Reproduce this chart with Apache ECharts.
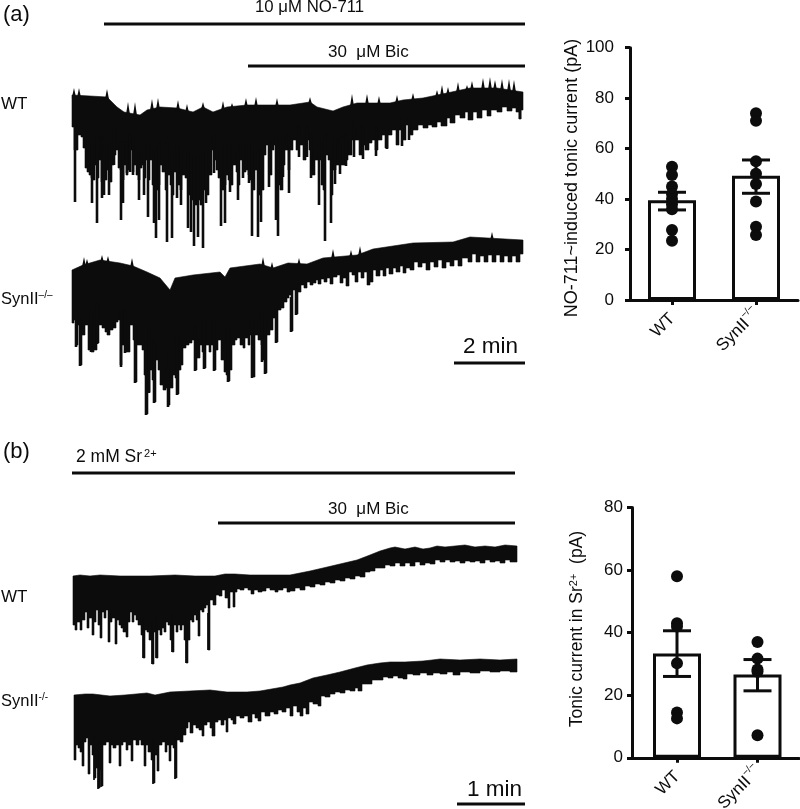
<!DOCTYPE html>
<html><head><meta charset="utf-8">
<style>html,body{margin:0;padding:0;background:#fff}#c{width:800px;height:809px}</style>
<script src="https://cdn.jsdelivr.net/npm/echarts@6/dist/echarts.min.js"></script>
</head><body><div id="c"></div>
<script>
// Membrane-current traces in sweep units
const aWtTop=[[72,95],[90,96],[107,97],[117,107],[124,112],[140,115],[147,110],[160,107],[177,108],[193,112],[203,107],[213,112],[227,107],[247,105],[267,105],[290,105],[310,102],[317,107],[333,111],[343,107],[357,103],[390,103],[403,100],[423,98],[447,93],[470,88],[497,88],[523,92]];
const aWtBottom=[[72,127],[74,150],[76,150],[78,135],[81,137],[83,148],[85,168],[87,172],[89,175],[91,178],[93,180],[95,165],[97,178],[99,160],[101,182],[103,172],[105,180],[107,170],[110,182],[112,165],[114,155],[116,150],[118,168],[120,170],[122,180],[124,165],[126,175],[128,170],[130,150],[132,172],[134,165],[136,175],[138,180],[140,168],[142,165],[144,178],[146,160],[148,180],[150,160],[152,185],[155,190],[158,185],[160,165],[162,172],[165,190],[167,175],[170,185],[172,195],[174,172],[177,185],[180,190],[182,175],[185,178],[188,195],[191,200],[194,205],[197,200],[200,205],[203,190],[206,195],[209,175],[212,150],[214,160],[216,170],[218,178],[221,190],[224,185],[226,175],[228,180],[230,185],[233,165],[236,172],[238,185],[240,160],[243,172],[246,170],[248,175],[250,180],[252,190],[255,170],[258,195],[261,190],[264,155],[266,145],[269,175],[272,150],[274,145],[277,185],[280,190],[283,165],[285,150],[288,170],[290,150],[293,140],[296,150],[299,145],[303,160],[306,140],[309,150],[312,175],[315,160],[318,160],[321,185],[323,190],[325,155],[328,160],[331,195],[333,170],[336,165],[339,165],[342,165],[345,160],[348,155],[352,140],[356,140],[359,155],[362,145],[365,150],[369,143],[372,140],[375,150],[378,140],[382,135],[385,148],[388,135],[392,130],[396,145],[399,130],[403,140],[406,125],[410,135],[413,130],[418,125],[423,128],[428,125],[432,127],[437,122],[441,126],[447,118],[450,123],[455,115],[460,118],[465,112],[468,120],[473,112],[477,118],[482,110],[487,116],[491,110],[497,112],[502,107],[507,111],[512,108],[516,112],[519,119],[521,110],[523,107]];
const aWtDown=[[75,202],[92,203],[97,223],[102,198],[104,195],[109,195],[114,165],[121,220],[123,203],[127,173],[130,172],[133,175],[139,200],[144,195],[148,217],[154,223],[156,238],[159,220],[167,242],[172,238],[177,198],[181,205],[188,228],[191,232],[194,246],[198,237],[203,248],[206,203],[214,173],[221,226],[225,223],[230,192],[238,200],[243,178],[249,183],[252,236],[258,237],[261,222],[269,187],[276,220],[278,236],[283,177],[289,193],[299,157],[307,157],[311,178],[319,205],[325,241],[331,223],[335,184],[340,174],[346,166],[354,157],[363,159],[376,156],[387,149],[402,146],[409,140],[520,119]];
const aWtUp=[[74,88],[79,88],[107,89],[128,102],[135,102],[152,99],[158,98],[178,100],[187,104],[203,102],[223,101],[232,103],[246,98],[256,97],[277,98],[310,97],[352,94],[367,94],[379,96],[397,95],[413,93],[437,90],[442,85],[448,87],[458,82],[467,85],[472,81],[483,78],[490,77],[495,80],[502,79],[509,79],[514,80]];

const aKoTop=[[72,270],[83,265],[100,260],[120,263],[133,266],[147,272],[160,278],[170,290],[175,278],[193,275],[220,272],[225,277],[230,268],[260,264],[273,268],[288,263],[307,264],[323,258],[357,255],[373,249],[413,243],[453,242],[470,237],[523,240]];
const aKoBottom=[[72,323],[74,320],[76,345],[78,325],[80,365],[82,335],[85,325],[88,350],[91,352],[94,350],[97,343],[99,325],[102,328],[105,332],[107,335],[110,330],[113,328],[116,322],[118,320],[120,365],[122,345],[125,352],[127,352],[130,325],[133,340],[135,382],[137,345],[140,345],[142,350],[144,375],[146,414],[148,392],[150,370],[152,380],[154,402],[156,360],[158,370],[160,385],[163,390],[166,388],[168,405],[170,388],[173,375],[175,378],[177,394],[179,370],[181,365],[183,348],[186,345],[189,343],[192,340],[195,370],[197,358],[200,345],[202,352],[204,368],[206,345],[209,352],[211,345],[214,370],[216,350],[218,340],[221,360],[224,372],[226,375],[228,381],[230,370],[232,345],[235,340],[237,338],[240,345],[243,348],[245,338],[248,345],[250,335],[252,377],[255,335],[258,340],[261,345],[262,360],[264,345],[265,373],[267,335],[270,330],[273,318],[276,342],[278,310],[281,308],[284,302],[287,298],[289,295],[291,331],[293,290],[296,314],[298,292],[301,285],[304,288],[307,282],[310,285],[313,283],[316,280],[318,284],[321,279],[324,282],[327,278],[330,284],[333,277],[337,275],[340,283],[343,278],[346,286],[349,272],[352,275],[355,282],[358,272],[361,278],[364,272],[367,285],[370,282],[373,270],[376,276],[380,270],[383,276],[386,268],[389,274],[393,268],[396,272],[400,266],[403,273],[406,268],[410,270],[414,262],[418,267],[422,263],[426,270],[430,262],[434,267],[438,260],[442,268],[446,262],[450,266],[454,260],[458,266],[462,258],[466,258],[468,262],[472,254],[476,262],[480,256],[484,262],[488,255],[492,262],[496,255],[500,262],[504,256],[508,262],[512,256],[516,262],[520,254],[523,250]];
const aKoDown=[[76,347],[80,366],[91,352],[97,344],[121,367],[125,353],[135,383],[146,415],[149,393],[154,403],[168,407],[177,395],[195,371],[204,369],[214,371],[228,382],[252,378],[262,362],[265,374],[276,343],[291,332],[296,315]];
const aKoUp=[[84,257],[87,259],[102,255],[108,256],[132,258],[263,257],[272,262],[299,258],[333,249],[351,250],[360,246],[492,232]];

const bWtTop=[[73,576],[80,575],[90,576],[100,575],[120,576],[150,576],[175,575],[195,576],[215,576],[225,574],[235,574],[250,575],[270,575],[290,575],[300,573],[310,571],[323,568],[340,564],[357,560],[370,555],[380,551],[390,548],[395,547],[405,549],[415,547],[423,549],[430,548],[437,546],[445,547],[455,546],[465,545],[475,547],[485,546],[495,547],[505,545],[517,546]];
const bWtBottom=[[73,625],[75,630],[77,622],[80,630],[82,620],[85,612],[87,628],[89,618],[92,635],[94,622],[96,610],[98,625],[100,638],[102,612],[104,618],[106,610],[108,642],[110,622],[112,618],[115,644],[117,620],[119,625],[121,628],[123,632],[126,637],[128,622],[130,612],[132,622],[134,615],[136,620],[138,625],[141,635],[143,658],[145,630],[147,632],[149,640],[152,664],[154,632],[156,658],[158,630],[160,635],[162,628],[164,632],[166,622],[168,625],[170,640],[172,652],[174,625],[176,632],[178,625],[180,630],[182,625],[184,640],[186,663],[188,640],[190,620],[192,622],[194,615],[196,620],[198,636],[200,610],[202,612],[204,608],[206,605],[208,650],[210,600],[213,605],[216,595],[219,596],[222,590],[225,598],[228,608],[230,592],[233,607],[235,592],[237,589],[240,590],[244,588],[248,590],[251,594],[254,590],[258,592],[262,591],[266,588],[270,590],[275,592],[278,590],[283,588],[287,592],[290,591],[295,588],[300,590],[305,586],[310,587],[315,584],[320,585],[325,582],[330,583],[335,580],[340,581],[345,578],[350,579],[355,576],[360,577],[365,572],[370,571],[375,568],[380,568],[385,565],[390,566],[395,563],[400,566],[405,563],[410,566],[415,562],[420,565],[425,563],[430,564],[435,560],[440,562],[445,560],[450,562],[455,561],[460,563],[465,561],[470,562],[475,561],[480,563],[485,560],[490,562],[495,561],[500,563],[505,560],[510,562],[517,560]];
const bWtDown=[[143,658],[152,664],[156,658],[172,652],[186,663],[208,650]];
const bWtUp=[];

const bKoTop=[[74,695],[85,694],[93,694],[110,696],[125,695],[147,693],[155,695],[170,692],[190,691],[210,690],[227,692],[247,692],[260,691],[283,687],[290,685],[300,683],[313,678],[327,675],[340,672],[355,668],[367,665],[380,663],[390,662],[405,662],[423,661],[432,660],[440,659],[460,660],[480,659],[500,660],[517,659]];
const bKoBottom=[[74,760],[76,745],[78,748],[80,752],[82,766],[84,742],[86,738],[88,774],[90,745],[92,755],[94,778],[96,768],[98,788],[100,770],[101,786],[103,745],[106,742],[109,763],[111,745],[113,748],[116,745],[119,766],[121,745],[123,742],[126,750],[128,745],[131,761],[133,740],[136,745],[139,740],[141,745],[144,766],[146,745],[148,752],[151,760],[153,783],[155,755],[157,771],[159,745],[162,742],[165,752],[167,745],[169,761],[171,745],[173,748],[175,778],[177,740],[180,742],[183,735],[186,728],[188,722],[190,733],[193,725],[196,728],[199,730],[202,736],[204,725],[207,722],[210,728],[212,736],[215,722],[218,720],[221,725],[224,720],[226,732],[228,718],[231,720],[233,724],[236,716],[240,718],[244,716],[248,722],[252,714],[255,718],[258,721],[261,712],[265,716],[270,712],[274,714],[278,710],[282,712],[286,708],[290,716],[293,706],[297,712],[300,716],[303,708],[306,714],[309,702],[313,704],[318,706],[321,696],[325,697],[330,694],[335,692],[340,693],[345,690],[350,691],[355,688],[358,691],[362,684],[367,684],[372,680],[377,680],[383,677],[388,678],[393,676],[398,678],[403,679],[407,674],[413,675],[420,673],[427,675],[433,673],[440,674],[447,672],[453,675],[460,672],[470,673],[480,671],[490,672],[500,671],[510,672],[517,670]];
const bKoDown=[[98,789],[101,787],[153,784],[175,779],[94,780]];
const bKoUp=[];

// Drug applications and scale bars, same sweep units
const noBar=[[104,24],[525,24]];
const aBicBar=[[248,66],[525,66]];
const aScale=[[454,363],[525,363]];
const srBar=[[72,473],[515,473]];
const bBicBar=[[218,523],[515,523]];
const bScale=[[457,804],[525,804]];

// Bar panels
const categories=['WT','SynII'];
const aMeans=[39.5,49.2];
const aLow=[35.7,42.3];
const aHigh=[42.7,55.5];
const aWtDots=[52.8,49.5,45,42,40,38,36,27.7,23.5];
const aKoDots=[74,71,55,50,46,39,29,25.8];
const aTicks={min:0,max:100,step:20};
const bMeans=[33.3,26.6];
const bLow=[26,21.4];
const bHigh=[40.6,31.4];
const bWtDots=[58,43,42,30.2,14.5,12.6];
const bKoDots=[37,31.7,28.2,27.5,7.2];
const bTicks={min:0,max:80,step:20};

const INK='#0c0c0c';
const FONT='"Liberation Sans", Arial, sans-serif';
const grids=[],xAxes=[],yAxes=[],series=[];

function traceGrid(l,t,w,h){
  const idx=grids.length;
  grids.push({left:l,top:t,width:w,height:h,outerBoundsMode:'none'});
  xAxes.push({gridIndex:idx,type:'value',min:l,max:l+w,show:false});
  yAxes.push({gridIndex:idx,type:'value',min:t,max:t+h,inverse:true,show:false});
  return idx;
}
function mid(top,bottom,x){
  const at=a=>{for(let i=1;i<a.length;i++){if(x<=a[i][0]){const f=(x-a[i-1][0])/(a[i][0]-a[i-1][0]);return a[i-1][1]+f*(a[i][1]-a[i-1][1]);}}return a[a.length-1][1];};
  return [at(top),at(bottom)];
}
function addTrace(idx,top,bottom,down,up,w){
  // the lower edge holds each reading up to the next one, so events read as square teeth
  const stepped=[];
  bottom.forEach((q,i)=>{stepped.push(q);if(i<bottom.length-1)stepped.push([bottom[i+1][0],q[1]]);});
  const pts=top.concat(stepped.reverse());
  series.push({type:'custom',xAxisIndex:idx,yAxisIndex:idx,silent:true,clip:false,data:pts,encode:{x:0,y:1},z:2,
    renderItem(p,api){ if(p.dataIndex!==0) return null;
      return {type:'polygon',shape:{points:pts.map(q=>api.coord(q))},style:{fill:INK,stroke:INK,lineWidth:0.6,lineJoin:'miter'}};}});
  series.push({type:'custom',xAxisIndex:idx,yAxisIndex:idx,silent:true,clip:false,data:down,encode:{x:0,y:1},z:2,
    renderItem(p,api){const x=api.value(0),y=api.value(1),m=mid(top,bottom,x);
      const a=api.coord([x,(m[0]+m[1])/2]),b=api.coord([x,y]);
      return {type:'line',shape:{x1:a[0],y1:a[1],x2:b[0],y2:b[1]},style:{stroke:INK,lineWidth:w}};}});
  if(up.length) series.push({type:'custom',xAxisIndex:idx,yAxisIndex:idx,silent:true,clip:false,data:up,encode:{x:0,y:1},z:2,
    renderItem(p,api){const x=api.value(0),y=api.value(1),m=mid(top,bottom,x);
      const b=api.coord([x,y]),a=api.coord([x,m[0]+3]);
      return {type:'polygon',shape:{points:[[a[0]-2.2,a[1]],b,[a[0]+2.2,a[1]]]},style:{fill:INK}};}});
}
function addRule(idx,pts,w){
  series.push({type:'line',xAxisIndex:idx,yAxisIndex:idx,data:pts,symbol:'none',silent:true,clip:false,
    lineStyle:{color:INK,width:w,cap:'butt'},z:3,animation:false});
}

const tA=traceGrid(0,0,800,405);
const tB=traceGrid(0,405,800,404);
addTrace(tA,aWtTop,aWtBottom,aWtDown,aWtUp,2.6);
addTrace(tA,aKoTop,aKoBottom,aKoDown,aKoUp,2.6);
addTrace(tB,bWtTop,bWtBottom,bWtDown,bWtUp,1.7);
addTrace(tB,bKoTop,bKoBottom,bKoDown,bKoUp,1.7);
addRule(tA,noBar,3);addRule(tA,aBicBar,3);addRule(tA,aScale,3);
addRule(tB,srBar,3);addRule(tB,bBicBar,3);addRule(tB,bScale,3);

function barPanel(l,t,w,h,unit,first,ticks,labelGap,means,low,high,wtDots,koDots){
  const idx=grids.length;
  grids.push({left:l,top:t,width:w,height:h,outerBoundsMode:'none'});
  xAxes.push({gridIndex:idx,type:'value',min:-first/unit,max:(w-first)/unit,splitLine:{show:false},
    axisLine:{show:true,onZero:false,lineStyle:{color:INK,width:3}},
    axisTick:{show:true,customValues:[0,1],length:5,lineStyle:{color:INK,width:3}},
    axisLabel:{customValues:[0,1],rotate:45,margin:10,color:INK,fontFamily:FONT,fontSize:17,
      formatter:v=>v===0?'{w|'+categories[0]+'}':'{m|'+categories[1]+'}{s|−/−}',
      rich:{w:{fontFamily:FONT,fontSize:17,color:INK,padding:[9,4,0,0]},
            m:{fontFamily:FONT,fontSize:17,color:INK,padding:[3,0,0,0]},
            s:{fontFamily:FONT,fontSize:10,color:INK,verticalAlign:'top',padding:[0,0,6,0]}}}});
  yAxes.push({gridIndex:idx,type:'value',min:ticks.min,max:ticks.max,interval:ticks.step,splitLine:{show:false},
    axisLine:{show:true,onZero:false,lineStyle:{color:INK,width:3}},
    axisTick:{show:true,length:5,lineStyle:{color:INK,width:3}},
    axisLabel:{margin:labelGap,color:INK,fontFamily:FONT,fontSize:17}});
  series.push({type:'bar',xAxisIndex:idx,yAxisIndex:idx,barWidth:48,data:means.map((m,i)=>[i,m]),
    itemStyle:{color:'#fff',borderColor:INK,borderWidth:3},silent:true,z:2,animation:false});
  series.push({type:'custom',xAxisIndex:idx,yAxisIndex:idx,silent:true,z:3,data:means.map((m,i)=>[i,low[i],high[i]]),encode:{x:0,y:[1,2]},
    renderItem(p,api){const a=api.coord([api.value(0),api.value(1)]),b=api.coord([api.value(0),api.value(2)]);
      const st={stroke:INK,lineWidth:3};
      return {type:'group',children:[
        {type:'line',shape:{x1:a[0],y1:a[1],x2:b[0],y2:b[1]},style:st},
        {type:'line',shape:{x1:a[0]-14,y1:a[1],x2:a[0]+14,y2:a[1]},style:st},
        {type:'line',shape:{x1:b[0]-14,y1:b[1],x2:b[0]+14,y2:b[1]},style:st}]};}});
  series.push({type:'scatter',xAxisIndex:idx,yAxisIndex:idx,silent:true,z:4,symbolSize:12,itemStyle:{color:INK,opacity:1},
    data:wtDots.map(v=>[0,v]).concat(koDots.map(v=>[1,v])),animation:false});
}
barPanel(630,47.7,168,252.3,84,42,aTicks,16,aMeans,aLow,aHigh,aWtDots,aKoDots);
barPanel(632,507.5,167,250.3,80.5,45,bTicks,9,bMeans,bLow,bHigh,bWtDots,bKoDots);

const T=(x,y,text,size,extra)=>({type:'text',x,y,silent:true,style:Object.assign({text,fill:INK,font:size+'px '+FONT,textVerticalAlign:'middle',textAlign:'left'},extra||{})});
const supRich={m:{fontFamily:FONT,fontSize:16.5,fill:INK},s:{fontFamily:FONT,fontSize:10,fill:INK,verticalAlign:'top',padding:[0,0,6,0]}};
const graphic=[
  T(3,15,'(a)',22), T(3,452,'(b)',22),
  T(255,7,'10 μM NO-711',16.8), T(328,52,'30  μM Bic',17),
  T(328,509,'30  μM Bic',17),
  T(76,457,'{m|2 mM Sr}{t|2+}',15,{rich:{m:{fontFamily:FONT,fontSize:17.5,fill:INK},t:{fontFamily:FONT,fontSize:11,fill:INK,verticalAlign:'top',padding:[0,0,7,2]}}}),
  T(1,104,'WT',17), T(1,597,'WT',17),
  T(1,299,'{m|SynII}{s|–/–}',15,{rich:supRich}),
  T(1,701,'{m|SynII}{s|-/-}',15,{rich:supRich}),
  T(463,347,'2 min',22.5), T(467,790,'1 min',22.5),
  {type:'text',x:572.5,y:178,rotation:Math.PI/2,silent:true,style:{text:'NO-711~induced tonic current (pA)',fill:INK,font:'18px '+FONT,textAlign:'center',textVerticalAlign:'middle'}},
  {type:'text',x:577,y:629,rotation:Math.PI/2,silent:true,style:{text:'{m|Tonic current in Sr}{s|2+}{m|  (pA)}',fill:INK,textAlign:'center',textVerticalAlign:'middle',rich:{m:{fontFamily:FONT,fontSize:17.5,fill:INK},s:{fontFamily:FONT,fontSize:11,fill:INK,verticalAlign:'top',padding:[0,0,7,0]}}}}
];

const chart=echarts.init(document.getElementById('c'),null,{renderer:'canvas'});
chart.setOption({animation:false,backgroundColor:'#fff',grid:grids,xAxis:xAxes,yAxis:yAxes,series,graphic});
</script></body></html>
